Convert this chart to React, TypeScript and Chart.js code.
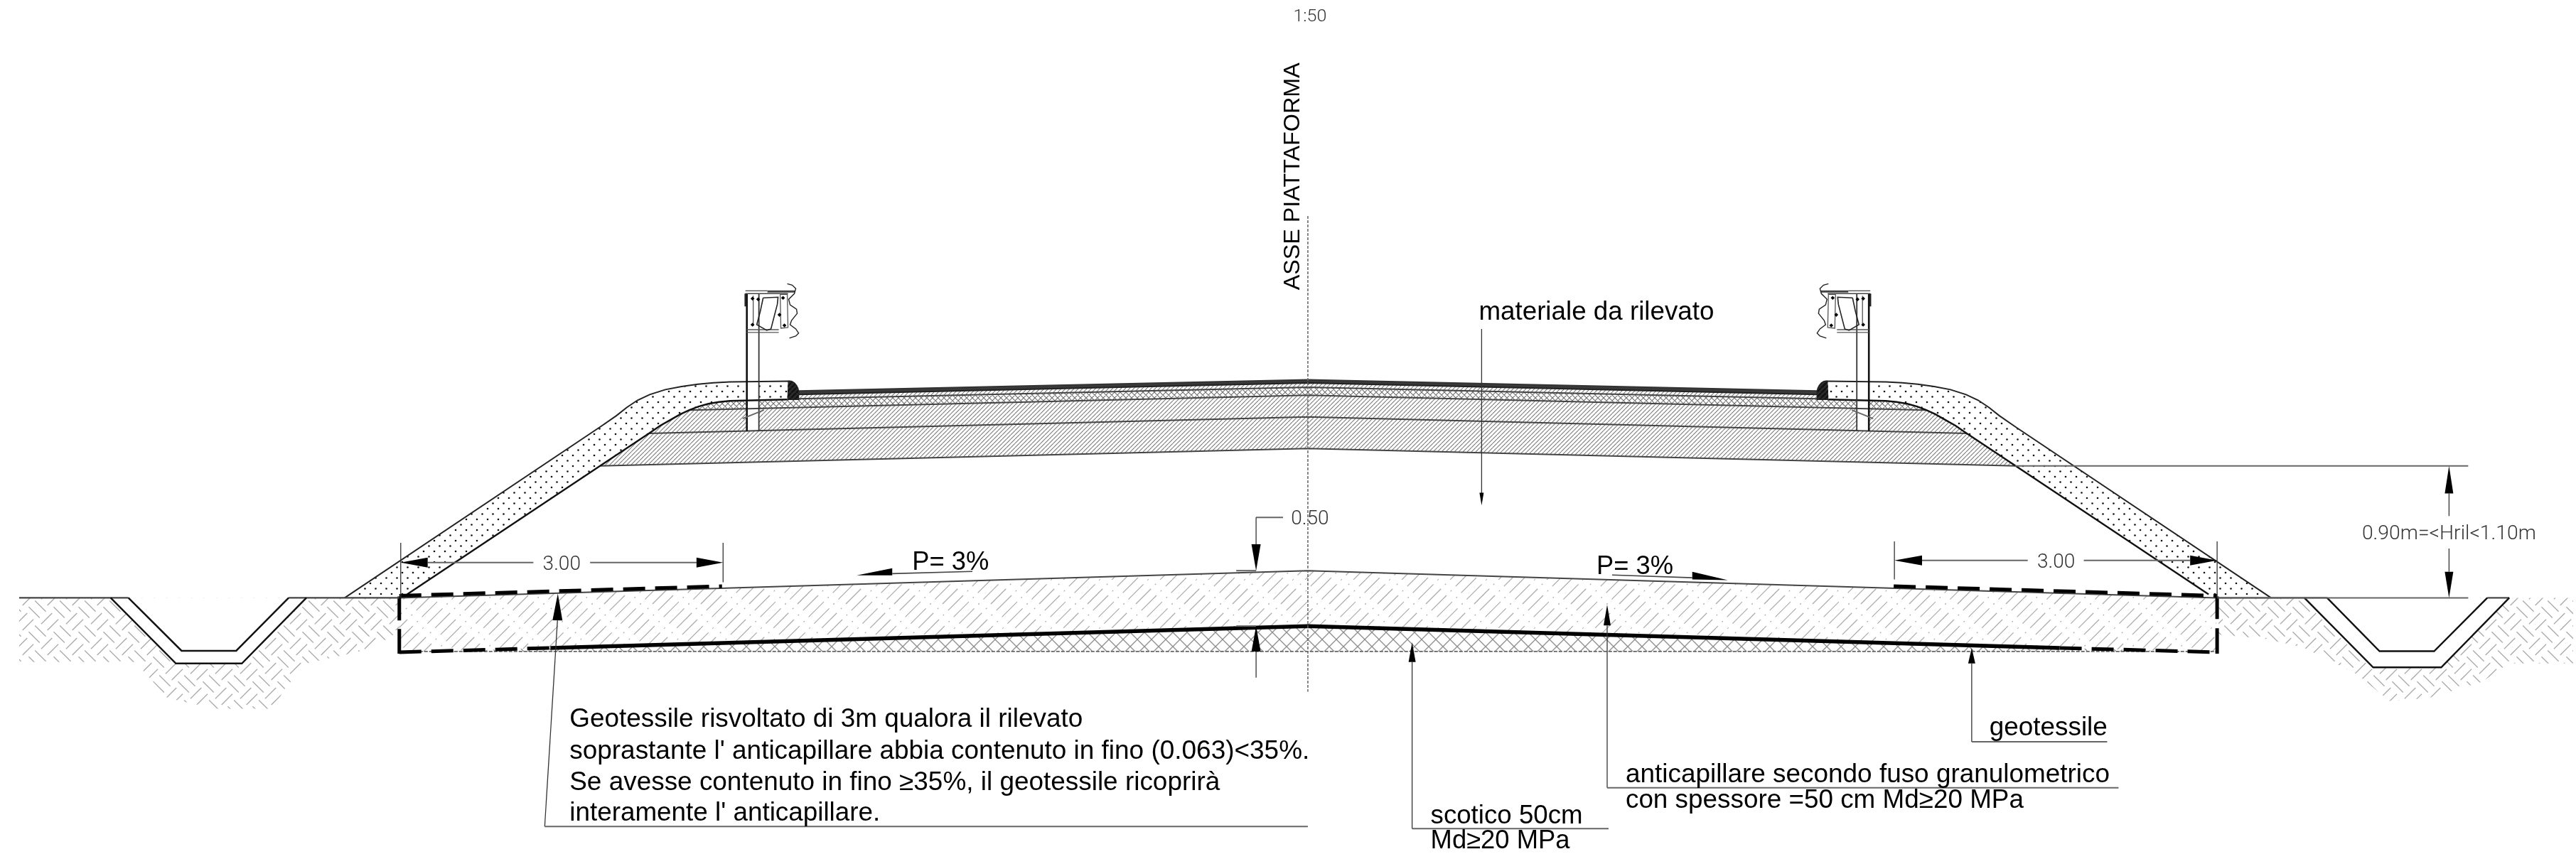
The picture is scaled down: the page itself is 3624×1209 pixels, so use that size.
import React, { useEffect, useRef } from "react";
import { Chart, registerables } from "chart.js";

Chart.register(...registerables);

type P = [number, number];

// Section geometry (x: along the section, y: downwards; axis at x = 1840)
const AXIS = 1840;
const sym = (l: P[]): P[] => [...l, ...l.slice(0, -1).reverse().map(([x, y]) => [2 * AXIS - x, y] as P)];
const mir = (l: P[]): P[] => l.map(([x, y]) => [2 * AXIS - x, y] as P);

const soilLeft: P[] = [[23, 843], [559, 843], [559, 890], [520, 915], [428, 936], [395, 975], [383, 1000], [300, 1000], [232, 985], [187, 934], [23, 934]];
const soilRight: P[] = [[3124, 843], [3624, 843], [3624, 936], [3534, 936], [3495, 962], [3420, 985], [3365, 989], [3319, 951], [3243, 913], [3189, 901], [3124, 895]];
const ditchOuterLeft: P[] = [[152, 843], [244, 936], [337, 936], [428, 843]];
const ditchInnerLeft: P[] = [[177, 843], [252, 918], [329, 918], [403, 843]];
const ditchOuterRight: P[] = [[3245, 843], [3342, 941.5], [3438, 941.5], [3534, 843]];
const ditchInnerRight: P[] = [[3277, 843], [3351, 918.6], [3428, 918.6], [3503, 843]];
const groundLines: P[][] = [[[23, 843], [177, 843]], [[403, 843], [559, 843]], [[3122, 843], [3277, 843]], [[3503, 843], [3534, 843]]];

const shoulderOuter: P[] = [[482, 843], [842, 601], [865, 585], [880, 573], [895, 563], [912, 555], [934, 548], [957, 543.5], [980, 540.4], [1002, 538.3], [1025, 537], [1110, 536]];
const shoulderInner: P[] = [[570, 838], [842, 656], [911, 610], [927, 599], [941, 591], [955, 583], [968, 577], [981, 572], [995, 568], [1010, 565.5], [1025, 564], [1106, 562]];
const curb: P[] = [[1107, 536], [1112, 536], [1116, 538.5], [1119, 542], [1121, 546], [1122, 550], [1122, 562], [1106, 562]];

const layerA: P[] = [[1122, 550], [1840, 534]];
const layerB: P[] = [[1122, 555], [1840, 538.5]];
const layerC: P[] = [[1122, 561], [1840, 544.7]];
const layerD: P[] = [[968, 577], [1840, 556]];
const layerE: P[] = [[911, 610], [1840, 586.7]];
const layerF: P[] = [[842, 656], [1840, 631.5]];
const curveCD: P[] = [[968, 577], [981, 572], [995, 568], [1010, 565.5], [1025, 564], [1106, 562], [1122, 561]];
const curveDF: P[] = [[842, 656], [911, 610], [927, 599], [941, 591], [955, 583], [968, 577]];

const capTop: P[] = [[559, 843], [1840, 804.5]];
const capBottom: P[] = [[559, 920], [1840, 883]];
const capDashTop: P[] = [[559, 840], [1014, 826.5]];
const capDashBottom: P[] = [[559, 920], [772, 914]];
const capSolidBottom: P[] = [[772, 914], [1840, 883], [2900, 914]];
const capDashBottomRight: P[] = [[2900, 914], [3122, 920]];
const capDashTopRight: P[] = [[2666, 826.5], [3122, 840]];
const capSides: P[][] = [[[559, 841], [559, 875]], [[559, 887], [559, 922]], [[3122, 841], [3122, 873]], [[3122, 886], [3122, 922]]];
const scoticoBase: P[] = [[559, 919], [3122, 919]];

const postLeftLine: P[] = [[1049, 412], [1049, 607]];
const postRightLine: P[] = [[1066, 412], [1066, 607]];
const postBox: P[] = [[1049, 412], [1066, 412], [1066, 607], [1049, 607]];
const plateThin: P[] = [[1047, 408], [1078, 408]];
const plateThick: P[] = [[1078, 409], [1117, 409]];
const plateSecond: P[] = [[1047, 412], [1107, 412]];
const plateLow1: P[] = [[1049, 463], [1094, 463]];
const plateLow2: P[] = [[1049, 467], [1094, 467]];
const spacer: P[] = [[1072, 418], [1093, 417], [1092, 427], [1083, 462], [1077, 464], [1063, 456], [1068, 437], [1072, 418]];
const sidePlate: P[] = [[1096, 413], [1106, 413], [1107, 460], [1097, 461], [1096, 413]];
const innerBar: P[] = [[1058, 415], [1058, 458]];
const rail: P[] = [[1106, 398], [1113, 400], [1118, 405], [1116, 412], [1108, 420], [1110, 428], [1119, 434], [1120, 440], [1112, 450], [1110, 456], [1118, 462], [1122, 468], [1118, 472], [1109, 475]];
const bolts: P[] = [[1057, 419], [1065, 420], [1057, 456], [1100, 418], [1102, 457], [1095, 442]];
const postTick: P[] = [[1043, 589], [1073, 577]];
const postScribble: P[] = [[1047, 412], [1047, 430]];

const axisLine: P[] = [[1840, 302], [1840, 976]];

const dimLines: P[][] = [
  [[599, 793], [748, 793]], [[828, 793], [978, 793]],
  [[2705, 790], [2855, 790]], [[2934, 790], [3084, 790]],
  [[2837, 656], [3476, 656]], [[3124, 843], [3476, 843]],
  [[1767, 729], [1805, 729]], [[1739, 804.5], [1767, 804.5]], [[1739, 883], [1767, 883]],
];
const thinLines: P[][] = [
  [[561, 765], [561, 843]], [[1015.5, 765], [1015.5, 821]],
  [[2667, 763], [2667, 817]], [[3122, 763], [3122, 843]],
  [[3449, 695], [3449, 727]], [[3449, 773], [3449, 806]],
  [[1767, 729], [1767, 767]], [[1767, 919], [1767, 956]],
  [[2085, 462], [2085, 695]],
  [[764, 1167], [782, 875]],
  [[1987, 1170], [1987, 934]], [[2262, 1112], [2262, 882]], [[2776, 1047], [2776, 936]],
];
const noteLines: P[][] = [
  [[764, 1167], [1840, 1167]], [[1987, 1170], [2264, 1170]],
  [[2262, 1112], [2983, 1112]], [[2776, 1047], [2967, 1047]],
];

// tip x, tip y, base x, base y, half width
const arrows: [number, number, number, number, number][] = [
  [561, 793, 599, 793, 7], [1015.5, 793, 978, 793, 7],
  [2667, 790, 2706, 790, 7], [3122, 790, 3084, 790, 7],
  [3449, 656, 3449, 695, 6], [3449, 843, 3449, 806, 6],
  [1767, 804.5, 1767, 767, 6.5], [1767, 883, 1767, 919, 6.5],
  [2085, 712, 2085, 694, 3], [782.5, 837, 782, 875, 7],
  [1987, 906, 1987, 934, 5], [2262, 853, 2262, 882, 5], [2776, 914, 2776, 936, 5],
];
const slopeLeftArrow: P[] = [[1204, 811], [1254, 801], [1254, 811]];
const slopeLeftLine: P[] = [[1254, 808.7], [1367, 805.6]];
const slopeRightArrow: P[] = [[2432, 818], [2382, 806], [2382, 817]];
const slopeRightLine: P[] = [[2269, 810.6], [2382, 814.5]];

const SANS = '"Liberation Sans", Arial, sans-serif';
const THIN = '300 {s}px Roboto, sans-serif';
const labels: { t: string; x: number; y: number; s: number; thin?: boolean; w?: number; rot?: boolean; center?: boolean }[] = [
  { t: "1:50", x: 1843, y: 26, s: 24, thin: true, center: true, w: 47 },
  { t: "ASSE PIATTAFORMA", x: 1828, y: 407, s: 32, rot: true, w: 320 },
  { t: "materiale da rilevato", x: 2081, y: 449, s: 36, w: 331 },
  { t: "0.50", x: 1843, y: 739, s: 28, thin: true, center: true },
  { t: "3.00", x: 788, y: 803, s: 28, thin: true, center: true },
  { t: "3.00", x: 2895, y: 800, s: 28, thin: true, center: true },
  { t: "0.90m=<Hril<1.10m", x: 3449, y: 760, s: 28, thin: true, center: true, w: 245 },
  { t: "P= 3%", x: 1282, y: 803, s: 36, w: 108 },
  { t: "P= 3%", x: 2247, y: 809, s: 36, w: 108 },
  { t: "Geotessile risvoltato di 3m qualora il rilevato", x: 799, y: 1026, s: 36, w: 722 },
  { t: "soprastante l' anticapillare abbia contenuto in fino (0.063)<35%.", x: 799, y: 1071, s: 36, w: 1041 },
  { t: "Se avesse contenuto in fino ≥35%, il geotessile ricoprirà", x: 799, y: 1115, s: 36, w: 915 },
  { t: "interamente l' anticapillare.", x: 799, y: 1159, s: 36, w: 437 },
  { t: "geotessile", x: 2801, y: 1038, s: 36, w: 166 },
  { t: "anticapillare secondo fuso granulometrico", x: 2288, y: 1104, s: 36, w: 681 },
  { t: "con spessore =50 cm Md≥20 MPa", x: 2288, y: 1141, s: 36, w: 560 },
  { t: "scotico 50cm", x: 2013, y: 1163, s: 36, w: 214 },
  { t: "Md≥20 MPa", x: 2013, y: 1198, s: 36, w: 196 },
];

function tile(w: number, h: number, draw: (c: CanvasRenderingContext2D) => void): CanvasPattern {
  const cv = document.createElement("canvas");
  cv.width = w;
  cv.height = h;
  const c = cv.getContext("2d")!;
  draw(c);
  return document.createElement("canvas").getContext("2d")!.createPattern(cv, "repeat")!;
}

function diag(w: number, color: string, lw: number, both: boolean) {
  return tile(w, w, (c) => {
    c.strokeStyle = color;
    c.lineWidth = lw;
    c.beginPath();
    for (const k of [-w, 0, w]) {
      c.moveTo(k, w);
      c.lineTo(k + w, 0);
      if (both) {
        c.moveTo(k, 0);
        c.lineTo(k + w, w);
      }
    }
    c.stroke();
  });
}

function makePatterns() {
  const dots = tile(15, 15, (c) => {
    c.fillStyle = "#111";
    for (const [x, y] of [[3.5, 3.5], [11, 11]]) {
      c.beginPath();
      c.arc(x, y, 1.3, 0, 7);
      c.fill();
    }
  });
  const cap = tile(68, 68, (c) => {
    c.strokeStyle = "#a8a8a8";
    c.lineWidth = 1.2;
    for (let i = -4; i < 8; i++) {
      const off = i * 17;
      c.setLineDash([30, 8, 2, 8.08]);
      c.lineDashOffset = ((i + 8) % 4) * 13;
      c.beginPath();
      c.moveTo(off, 68);
      c.lineTo(off + 68, 0);
      c.stroke();
    }
  });
  // basket weave on a 45-degree lattice: two strokes per cell, alternating direction
  const soil = tile(35, 35, (c) => {
    const u = 35 / Math.SQRT2;
    c.strokeStyle = "#aaaaaa";
    c.lineWidth = 1.3;
    c.translate(17.5, 17.5);
    c.rotate(Math.PI / 4);
    c.beginPath();
    for (let i = -3; i <= 3; i++) {
      for (let j = -3; j <= 3; j++) {
        const x0 = (i - 0.5) * u;
        const y0 = (j - 0.5) * u;
        for (const f of [0.25, 0.75]) {
          if ((i + j + 12) % 2 === 0) {
            c.moveTo(x0 + 1.5, y0 + f * u);
            c.lineTo(x0 + u - 1.5, y0 + f * u);
          } else {
            c.moveTo(x0 + f * u, y0 + 1.5);
            c.lineTo(x0 + f * u, y0 + u - 1.5);
          }
        }
      }
    }
    c.stroke();
  });
  return {
    dots,
    cap,
    soil,
    cross: diag(20, "#8c8c8c", 1.3, true),
    fine: diag(6, "#7a7a7a", 1.1, false),
    fineCross: diag(8, "#707070", 1.1, true),
    curbHatch: diag(7, "#111", 2.5, false),
  };
}

const pts = (l: P[]) => l.map(([x, y]) => ({ x, y }));

const line = (l: P[], color = "#222", w = 2, dash: number[] = []) => ({
  data: pts(l),
  showLine: true,
  borderColor: color,
  borderWidth: w,
  borderDash: dash,
  pointRadius: 0,
  fill: false,
  tension: 0,
});
const area = (l: P[], bg: any) => ({
  data: pts(l),
  showLine: true,
  borderColor: "transparent",
  borderWidth: 1,
  backgroundColor: bg,
  pointRadius: 0,
  fill: "shape",
  tension: 0,
});

const textPlugin = {
  id: "sectionLabels",
  afterDatasetsDraw(chart: any) {
    const { ctx, scales } = chart;
    for (const l of labels) {
      const x = scales.x.getPixelForValue(l.x);
      const y = scales.y.getPixelForValue(l.y);
      ctx.save();
      ctx.font = l.thin ? THIN.replace("{s}", String(l.s)) : `${l.s}px ${SANS}`;
      ctx.fillStyle = l.thin ? "#333" : "#000";
      ctx.textBaseline = "alphabetic";
      ctx.textAlign = l.center ? "center" : "left";
      ctx.translate(x, y);
      if (l.rot) ctx.rotate(-Math.PI / 2);
      if (l.w) {
        const m = ctx.measureText(l.t).width;
        ctx.scale(l.w / m, 1);
      }
      ctx.fillText(l.t, 0, 0);
      ctx.restore();
    }
  },
};

function buildDatasets() {
  const p = makePatterns();
  const ds: any[] = [];
  // soil
  ds.push(area(soilLeft, p.soil), area(soilRight, p.soil));
  ds.push(area(ditchOuterLeft, "#fff"), area(ditchOuterRight, "#fff"));
  // road layers
  const lowerHatch = sym([...curveDF, ...layerD.slice(1)]);
  const lowerBottom = sym(layerF);
  ds.push(area([...lowerHatch, ...lowerBottom.slice().reverse()], p.fine));
  const crossUpper = sym([...curveCD, ...layerC.slice(1)]);
  ds.push(area([...crossUpper, ...sym(layerD).reverse()], p.fineCross));
  ds.push(area([...sym(layerB), ...sym(layerC).reverse()], p.fine));
  ds.push(area([...sym(layerA), ...sym(layerB).reverse()], "#3a3a3a"));
  // shoulders
  const sL = [...shoulderOuter, ...shoulderInner.slice().reverse()];
  ds.push(area(sL, "#fff"), area(mir(sL), "#fff"));
  ds.push(area(sL, p.dots), area(mir(sL), p.dots));
  ds.push(area(curb, "#2c2c2c"), area(mir(curb), "#2c2c2c"));
  ds.push(area(curb, p.curbHatch), area(mir(curb), p.curbHatch));
  ds.push(area(postBox, "#fff"), area(mir(postBox), "#fff"));
  // road lines
  for (const l of [layerC, layerD, layerE, layerF]) ds.push(line(sym(l), "#444", 2));
  ds.push(line(sym(layerA), "#333", 2), line(sym(layerB), "#222", 2));
  ds.push(line(shoulderOuter, "#222", 2), line(mir(shoulderOuter), "#222", 2));
  ds.push(line(shoulderInner, "#111", 2.4), line(mir(shoulderInner), "#111", 2.4));
  ds.push(line(curb, "#222", 1.5), line(mir(curb), "#222", 1.5));
  // foundation
  ds.push(area([...sym(capBottom), [3122, 919], [559, 919]], p.cross));
  ds.push(area([...sym(capTop), ...sym(capBottom).reverse()], "#fff"));
  ds.push(area([...sym(capTop), ...sym(capBottom).reverse()], p.cap));
  ds.push(line(scoticoBase, "#666", 1.8, [5, 2]));
  ds.push(line(sym(capTop), "#444", 2));
  ds.push(line(capSolidBottom, "#000", 5.5));
  for (const l of [capDashBottom, capDashBottomRight, capDashTop, capDashTopRight]) ds.push(line(l, "#000", 5, [31, 14]));
  for (const l of capSides) ds.push(line(l, "#000", 5));
  // ground & ditches
  for (const l of groundLines) ds.push(line(l, "#444", 2.2));
  ds.push(line(ditchOuterLeft, "#111", 2.4), line(ditchInnerLeft, "#111", 2.4));
  ds.push(line(ditchOuterRight, "#111", 2.4), line(ditchInnerRight, "#111", 2.4));
  // guard rails, left then mirrored
  for (const f of [(l: P[]) => l, mir]) {
    ds.push(line(f(postLeftLine), "#111", 2.6), line(f(postRightLine), "#333", 1.8));
    ds.push(line(f(plateThin), "#555", 1.4), line(f(plateThick), "#444", 3), line(f(plateSecond), "#444", 1.4));
    ds.push(line(f(plateLow1), "#555", 1.4), line(f(plateLow2), "#555", 1.4));
    ds.push(line(f(spacer), "#222", 1.6), line(f(sidePlate), "#555", 1.3), line(f(innerBar), "#444", 1.2));
    ds.push(line(f(rail), "#222", 1.4), line(f(postTick), "#666", 2), line(f(postScribble), "#222", 2.5));
    ds.push({ data: pts(f(bolts)), showLine: false, pointStyle: "rectRot", pointRadius: 2.8, pointBackgroundColor: "#000", pointBorderWidth: 0 });
  }
  // annotations
  ds.push(line(axisLine, "#666", 1.5, [4, 2]));
  for (const l of dimLines) ds.push(line(l, "#666", 2));
  for (const l of thinLines) ds.push(line(l, "#333", 1.3));
  for (const l of noteLines) ds.push(line(l, "#666", 2));
  for (const [tx, ty, bx, by, h] of arrows) {
    const L = Math.hypot(bx - tx, by - ty);
    const nx = (-(by - ty) / L) * h;
    const ny = ((bx - tx) / L) * h;
    ds.push(area([[tx, ty], [bx + nx, by + ny], [bx - nx, by - ny]], "#000"));
  }
  ds.push(area(slopeLeftArrow, "#000"), line(slopeLeftLine, "#444", 1.6));
  ds.push(area(slopeRightArrow, "#000"), line(slopeRightLine, "#444", 1.6));
  // Chart.js paints the first dataset last, so the painter's order above is flipped here
  return ds.reverse();
}

export default function App() {
  const ref = useRef<HTMLCanvasElement>(null);
  useEffect(() => {
    const chart = new Chart(ref.current!, {
      type: "scatter",
      data: { datasets: buildDatasets() },
      options: {
        animation: false,
        responsive: false,
        devicePixelRatio: 1,
        layout: { padding: 0 },
        elements: { line: { borderCapStyle: "butt", borderJoinStyle: "miter" } },
        plugins: { legend: { display: false }, tooltip: { enabled: false }, filler: { propagate: false } },
        scales: {
          x: { type: "linear", min: 0, max: 3624, display: false },
          y: { type: "linear", min: 0, max: 1209, reverse: true, display: false },
        },
      },
      plugins: [textPlugin],
    } as any);
    return () => chart.destroy();
  }, []);
  return (
    <div style={{ position: "absolute", left: 0, top: 0, width: 3624, height: 1209, background: "#fff" }}>
      <canvas ref={ref} width={3624} height={1209} style={{ display: "block" }} />
    </div>
  );
}
